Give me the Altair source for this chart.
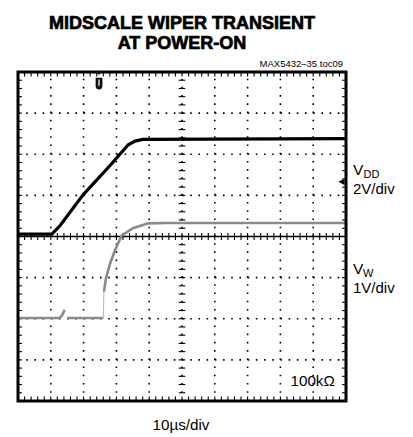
import altair as alt
import pandas as pd
import numpy as np

# ---- data (in scope divisions: x 0..10, y -4..4) ----
vdd_t = [0.0, 1.03, 1.28, 1.99, 2.80, 3.36, 3.57, 3.80, 10.0]
vdd_v = [0.06, 0.06, 0.26, 1.02, 1.72, 2.23, 2.32, 2.36, 2.38]

vw_seg = ["a"] * 5 + ["b"] * 2 + ["d"] * 9
vw_t = [0.0, 1.26, 1.33, 1.38, 1.42,
        1.49, 2.60,
        2.62, 2.68, 2.81, 2.96, 3.16, 3.50, 3.97, 4.50, 10.0]
vw_v = [-1.98, -1.98, -1.93, -1.86, -1.78,
        -1.98, -1.98,
        -1.34, -1.02, -0.65, -0.33, 0.02, 0.20, 0.32, 0.33, 0.33]
rise_t = [2.60, 2.61, 2.62]
rise_v = [-1.98, -1.72, -1.34]

title_lines = ["MIDSCALE WIPER TRANSIENT", "AT POWER-ON"]
code_label = "MAX5432–35 toc09"
x_label = "10µs/div"
r_label = "100kΩ"

W, H = 328, 329
FONT = "Liberation Sans, Arial, Helvetica, sans-serif"

xs = alt.Scale(domain=[0, 10], nice=False, zero=False)
ys = alt.Scale(domain=[-4, 4], nice=False, zero=False)

def X(f):
    return alt.X(f, type="quantitative", scale=xs, axis=None)

def Y(f):
    return alt.Y(f, type="quantitative", scale=ys, axis=None)

# ---- graticule ----
vgrid = pd.DataFrame({"x": [1, 2, 3, 4, 5, 6, 7, 8, 9], "y0": -4, "y1": 4})
hgrid = pd.DataFrame({"y": [-3, -2, -1, 1, 2, 3], "x0": 0, "x1": 10})

vgrid_l = alt.Chart(vgrid).mark_rule(color="#000", strokeWidth=1.6, strokeDash=[1.6, 6.625]).encode(
    x=X("x"), y=Y("y0"), y2="y1")
hgrid_l = alt.Chart(hgrid).mark_rule(color="#000", strokeWidth=1.6, strokeDash=[1.6, 6.6]).encode(
    y=Y("y"), x=X("x0"), x2="x1")
hcenter = alt.Chart(pd.DataFrame({"y": [0], "x0": [0], "x1": [10]})).mark_rule(
    color="#000", strokeWidth=1.6).encode(y=Y("y"), x=X("x0"), x2="x1")

mx = np.round(np.arange(1, 50) * 0.2, 3)
my = np.round(np.arange(-19, 20) * 0.2, 3)
my = my[my != 0]
tick_h = pd.DataFrame({"x": mx, "y0": -0.085, "y1": 0.085})
tick_v = pd.DataFrame({"y": my, "x0": 4.9, "x1": 5.1})
tick_top = pd.DataFrame({"x": mx, "y0": 4.0, "y1": 3.89})
tick_bot = pd.DataFrame({"x": mx, "y0": -4.0, "y1": -3.89})
tick_left = pd.DataFrame({"y": my, "x0": 0.0, "x1": 0.12})
tick_right = pd.DataFrame({"y": my, "x0": 10.0, "x1": 9.88})

def vt(df):
    return alt.Chart(df).mark_rule(color="#000", strokeWidth=1.1).encode(x=X("x"), y=Y("y0"), y2="y1")

def ht(df):
    return alt.Chart(df).mark_rule(color="#000", strokeWidth=1.1).encode(y=Y("y"), x=X("x0"), x2="x1")

frame = alt.Chart(pd.DataFrame({"x0": [0], "x1": [10], "y0": [-4], "y1": [4]})).mark_rect(
    fill=None, stroke="#000", strokeWidth=3).encode(x=X("x0"), x2="x1", y=Y("y0"), y2="y1")

# ---- traces ----
vw_df = pd.DataFrame({"t": vw_t, "v": vw_v, "seg": vw_seg})
rise_df = pd.DataFrame({"t": rise_t, "v": rise_v})
vdd_df = pd.DataFrame({"t": vdd_t, "v": vdd_v})

vw_line = alt.Chart(vw_df).mark_line(color="#8a8a8a", strokeWidth=2.6, clip=True).encode(
    x=X("t"), y=Y("v"), detail="seg:N")
rise_line = alt.Chart(rise_df).mark_line(color="#b5b5b5", strokeWidth=1.0, clip=True).encode(
    x=X("t"), y=Y("v"))
vdd_line = alt.Chart(vdd_df).mark_line(color="#000", strokeWidth=3.2, clip=True).encode(
    x=X("t"), y=Y("v"))

# ---- markers ----
trig_path = ("M -0.35 -1 L 0.35 -1 L 0 -0.62 Z "
             "M -0.38 -0.3 L 0.38 -0.3 L 0.38 0.55 Q 0.38 1 0 1 Q -0.38 1 -0.38 0.55 Z")
trig = alt.Chart(pd.DataFrame({"t": [2.47]})).mark_point(
    shape=trig_path, filled=True, color="#111", size=320, opacity=1).encode(
    x=X("t"), y=alt.value(8.5))
trig_in = alt.Chart(pd.DataFrame({"t": [2.47]})).mark_point(
    shape="M -0.09 -0.1 L 0.09 -0.1 L 0.09 0.6 L -0.09 0.6 Z", filled=True, color="#ccc",
    size=320, opacity=1).encode(x=X("t"), y=alt.value(8.5))
arrow = alt.Chart(pd.DataFrame({"t": [9.86], "v": [1.33]})).mark_point(
    shape="M -1 0 L 1 -1 L 1 1 Z", filled=True, color="#000", size=40, opacity=1).encode(
    x=X("t"), y=Y("v"))

# ---- text ----
one = pd.DataFrame({"a": [0]})

def txt(s, x, y, size, align="left", weight="normal", stroke=0.0):
    kw = dict(text=s, x=x, y=y, fontSize=size, align=align, baseline="alphabetic",
              font=FONT, fontWeight=weight, color="#000")
    if stroke > 0:
        kw.update(stroke="#000", strokeWidth=stroke)
    return alt.Chart(one).mark_text(**kw)

texts = [
    txt(title_lines[0], 164, -43, 18, "center", "bold", 0.7),
    txt(title_lines[1], 164, -23, 18, "center", "bold", 0.7),
    txt(code_label, 325, -5, 9.5, "right"),
    txt("V", 335, 103, 15.5),
    txt("DD", 345.5, 105.5, 11),
    txt("2V/div", 335, 121.5, 15),
    txt("V", 335, 202, 15.5),
    txt("W", 345, 205.3, 11),
    txt("1V/div", 335, 220.7, 15),
    txt(r_label, 272.5, 314, 15.2),
    txt(x_label, 163, 357.5, 15.2, "center"),
]

chart = alt.layer(
    vgrid_l, hgrid_l, hcenter,
    vt(tick_h), ht(tick_v), vt(tick_top), vt(tick_bot), ht(tick_left), ht(tick_right),
    vw_line, rise_line, vdd_line, frame, trig, trig_in, arrow, *texts
).properties(
    width=W, height=H,
    padding={"left": 10, "top": 64, "right": 59, "bottom": 36},
    autosize=alt.AutoSizeParams(type="none"),
    background="white",
).configure_view(stroke=None)

chart.save("out.html", embed_options={"renderer": "svg", "actions": False})
